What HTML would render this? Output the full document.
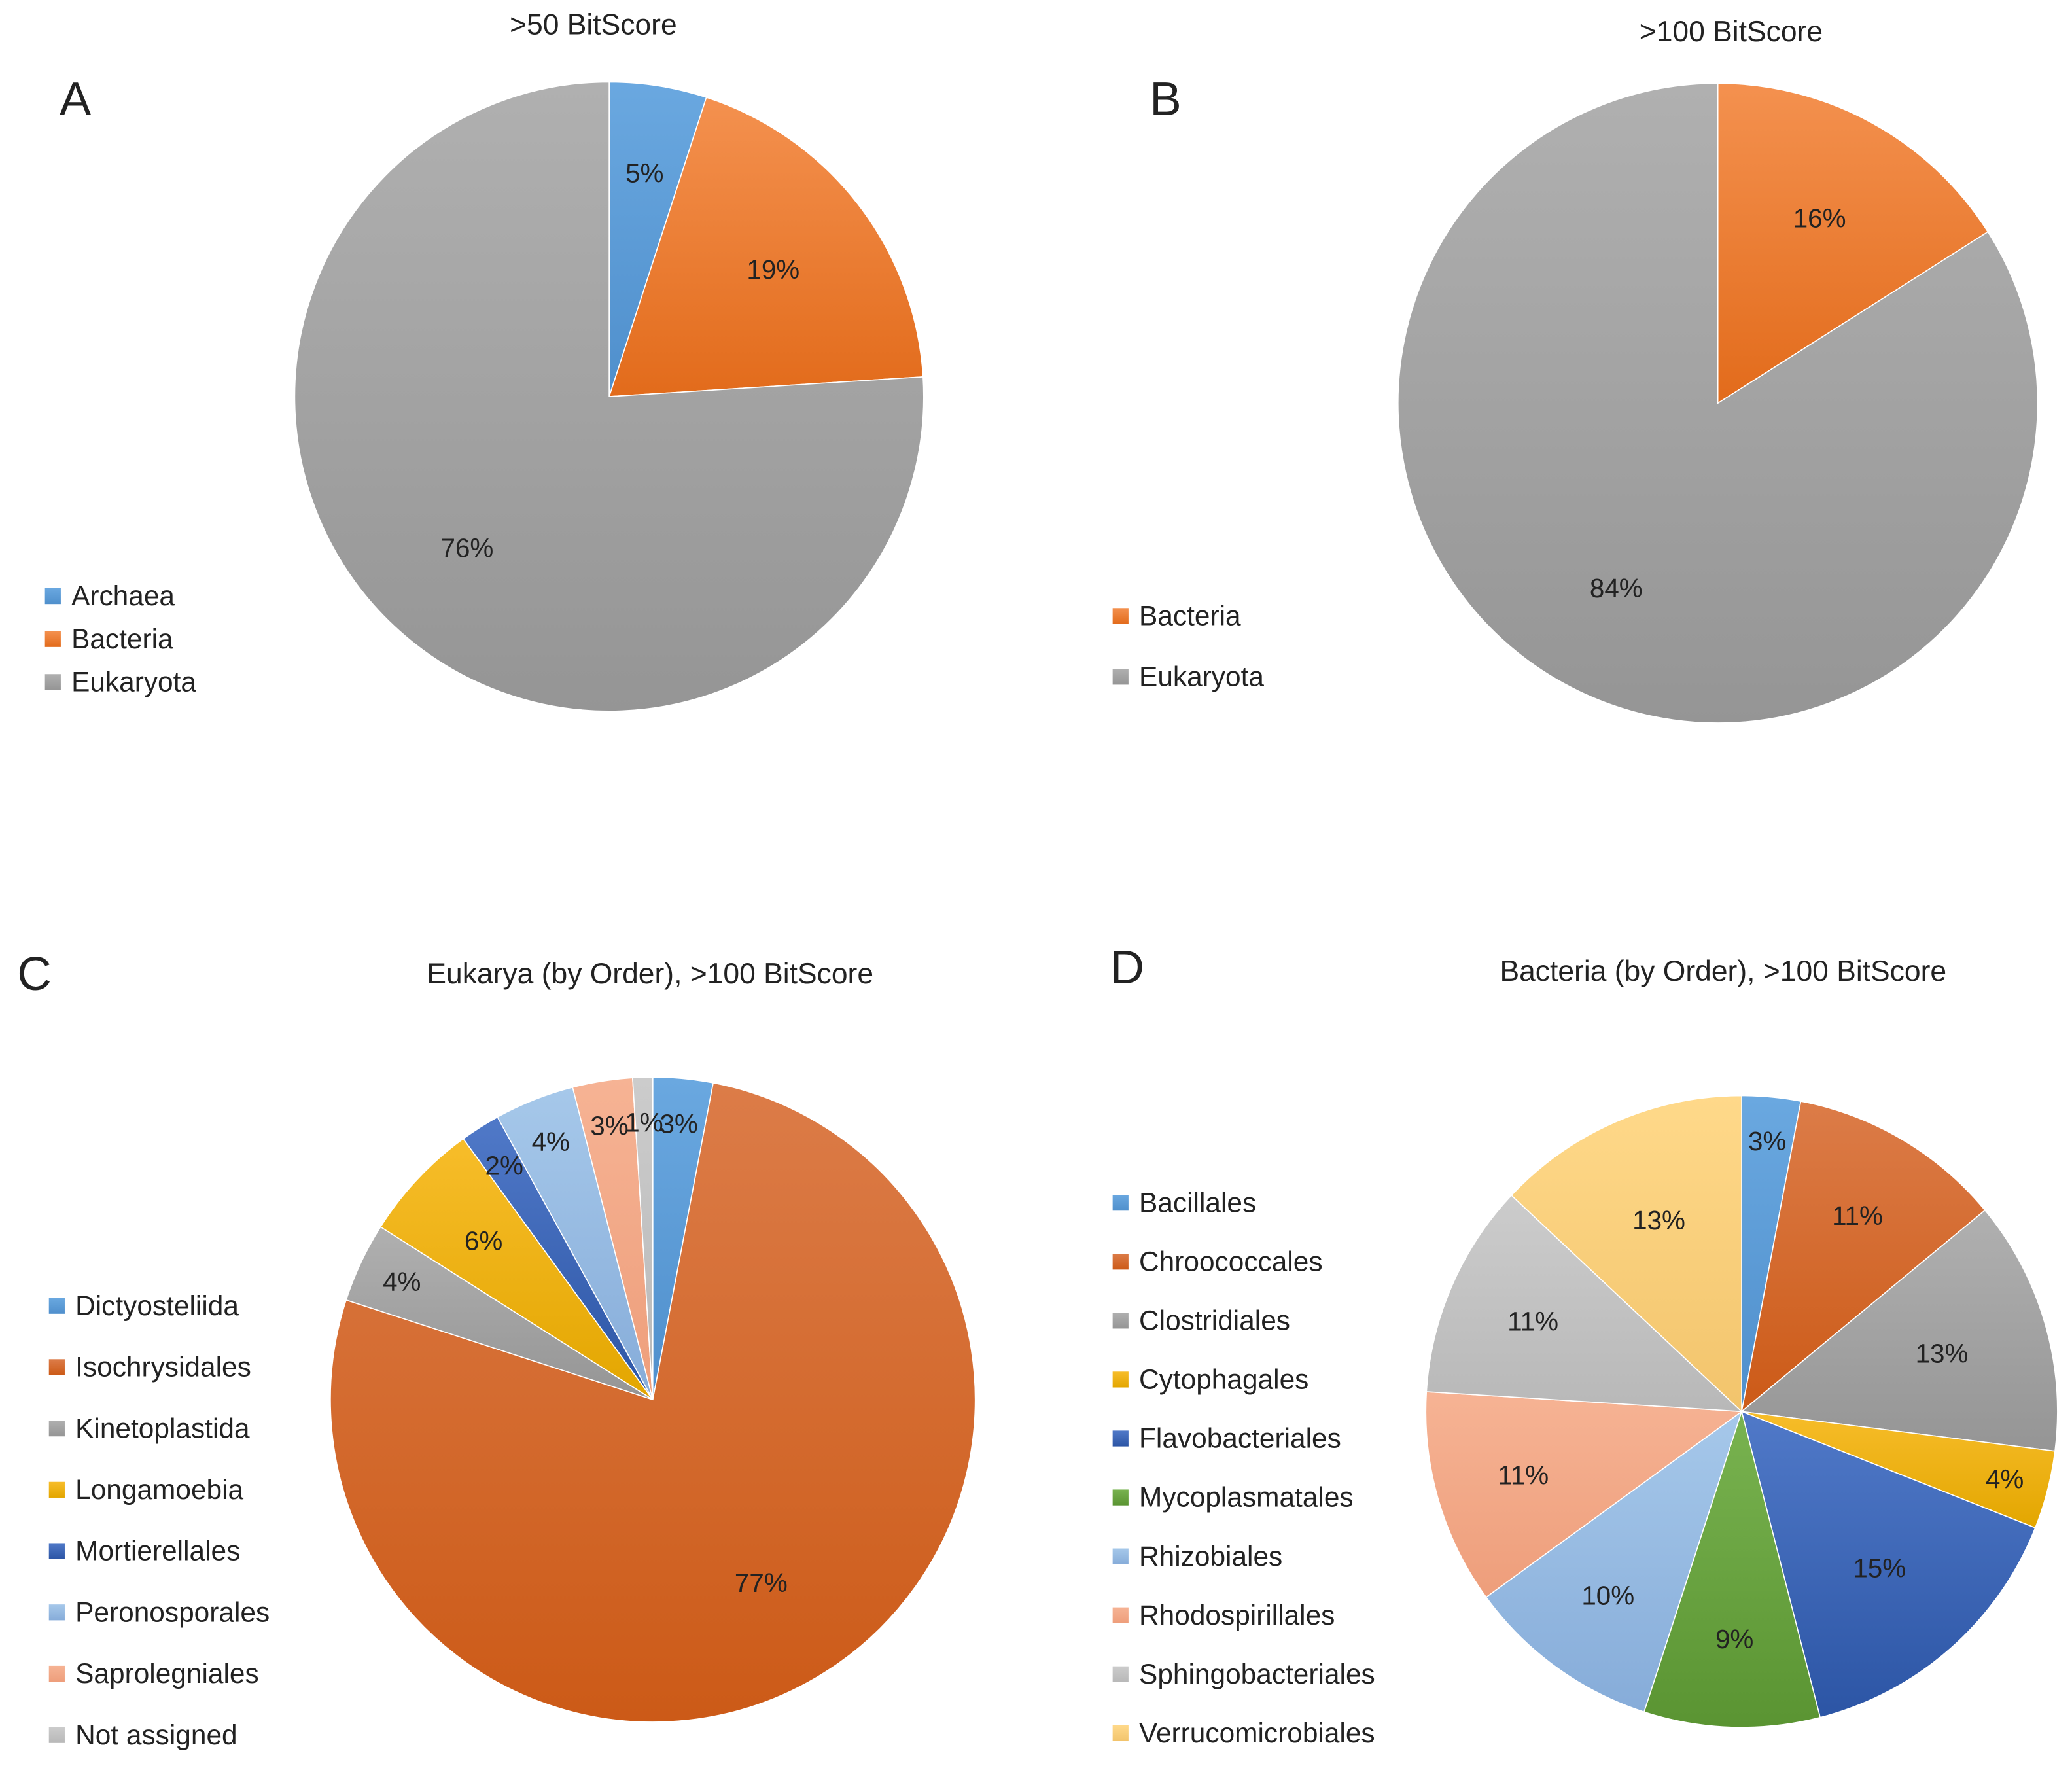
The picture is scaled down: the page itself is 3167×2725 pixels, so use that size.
<!DOCTYPE html>
<html><head><meta charset="utf-8"><style>
html,body{margin:0;padding:0;background:#fff}
svg{display:block}
text{font-family:"Liberation Sans",sans-serif;fill:#222}
</style></head><body>
<svg id="chart" width="3167" height="2725" viewBox="0 0 1568 1349" xmlns="http://www.w3.org/2000/svg">
<defs id="defs"></defs>
<text x="45" y="87" font-size="36">A</text>
<text x="870" y="87" font-size="36">B</text>
<text x="13" y="749" font-size="36">C</text>
<text x="840" y="744" font-size="36">D</text>
<text x="449" y="26" font-size="22" text-anchor="middle">&gt;50 BitScore</text>
<text x="1310" y="31" font-size="22" text-anchor="middle">&gt;100 BitScore</text>
<text x="492" y="744" font-size="22" text-anchor="middle">Eukarya (by Order), &gt;100 BitScore</text>
<text x="1304" y="742" font-size="22" text-anchor="middle">Bacteria (by Order), &gt;100 BitScore</text>
</svg>
<script>
const catsA=["Archaea","Bacteria","Eukaryota"];
const valsA=[5,19,76];
const catsB=["Bacteria","Eukaryota"];
const valsB=[16,84];
const catsC=["Dictyosteliida","Isochrysidales","Kinetoplastida","Longamoebia","Mortierellales","Peronosporales","Saprolegniales","Not assigned"];
const valsC=[3,77,4,6,2,4,3,1];
const catsD=["Bacillales","Chroococcales","Clostridiales","Cytophagales","Flavobacteriales","Mycoplasmatales","Rhizobiales","Rhodospirillales","Sphingobacteriales","Verrucomicrobiales"];
const valsD=[3,11,13,4,15,9,10,11,11,13];

const P={blue:["#6aa8e0","#4f8fcc"],orange:["#f4914f","#e26b1b"],dorange:["#dc7c48","#cc5a17"],gray:["#b0b0b0","#959595"],yellow:["#f7bd2a","#e3a600"],dblue:["#5079c8","#2c55a5"],green:["#79b350","#5a9432"],lblue:["#a6c8ea","#86acd9"],salmon:["#f6b394","#ee9e7b"],lgray:["#cccccc","#b8b8b8"],lyellow:["#ffd98a","#f2c46c"]};
const colA=["blue","orange","gray"],colB=["orange","gray"];
const colC=["blue","dorange","gray","yellow","dblue","lblue","salmon","lgray"];
const colD=["blue","dorange","gray","yellow","dblue","green","lblue","salmon","lgray","lyellow"];
const NS="http://www.w3.org/2000/svg";
const svg=document.getElementById('chart'),defs=document.getElementById('defs');
Object.keys(P).forEach(k=>{const g=document.createElementNS(NS,'linearGradient');g.id='g-'+k;g.setAttribute('x1','0');g.setAttribute('y1','0');g.setAttribute('x2','0');g.setAttribute('y2','1');
[[0,P[k][0]],[1,P[k][1]]].forEach(([o,c])=>{const s=document.createElementNS(NS,'stop');s.setAttribute('offset',o);s.setAttribute('stop-color',c);g.appendChild(s);});defs.appendChild(g);});
function el(t,a){const e=document.createElementNS(NS,t);for(const k in a)e.setAttribute(k,a[k]);svg.appendChild(e);return e;}
function pie(id,vals,cats,cols,cx,cy,r,legX,legY,legStep){
  const tot=vals.reduce((a,b)=>a+b,0);let a0=0;
  vals.forEach((v,i)=>{
    const a1=a0+v/tot*2*Math.PI;
    const p=(a)=>[cx+r*Math.sin(a),cy-r*Math.cos(a)];
    const [x0,y0]=p(a0),[x1,y1]=p(a1);
    const large=(a1-a0)>Math.PI?1:0;
    const path=el('path',{d:`M${cx},${cy}L${x0},${y0}A${r},${r} 0 ${large} 1 ${x1},${y1}Z`,fill:`url(#g-${cols[i]})`,stroke:'#fff','stroke-width':'0.8'});
    
    
    const m=(a0+a1)/2,f=v<5?0.86:(v<12?0.72:0.66);
    const t=el('text',{x:cx+f*r*Math.sin(m),y:cy-f*r*Math.cos(m)+7,'font-size':'20','text-anchor':'middle'});
    t.textContent=v+'%';
    
    
    a0=a1;
  });
  cats.forEach((c,i)=>{
    const y=legY+i*legStep;
    const s=el('rect',{x:legX,y:y-6,width:12,height:12,fill:`url(#g-${cols[i]})`});
    
    
    const t=el('text',{x:legX+20,y:y+7,'font-size':'21'});
    t.textContent=c;
    
    
  });
}
pie('pie-a',valsA,catsA,colA,461,300,238,34,451,32.5);
pie('pie-b',valsB,catsB,colB,1300,305,242,842,466,46);
pie('pie-c',valsC,catsC,colC,494,1059,244,37,988,46.4);
pie('pie-d',valsD,catsD,colD,1318,1068,239,842,910,44.6);
</script>
</body></html>
